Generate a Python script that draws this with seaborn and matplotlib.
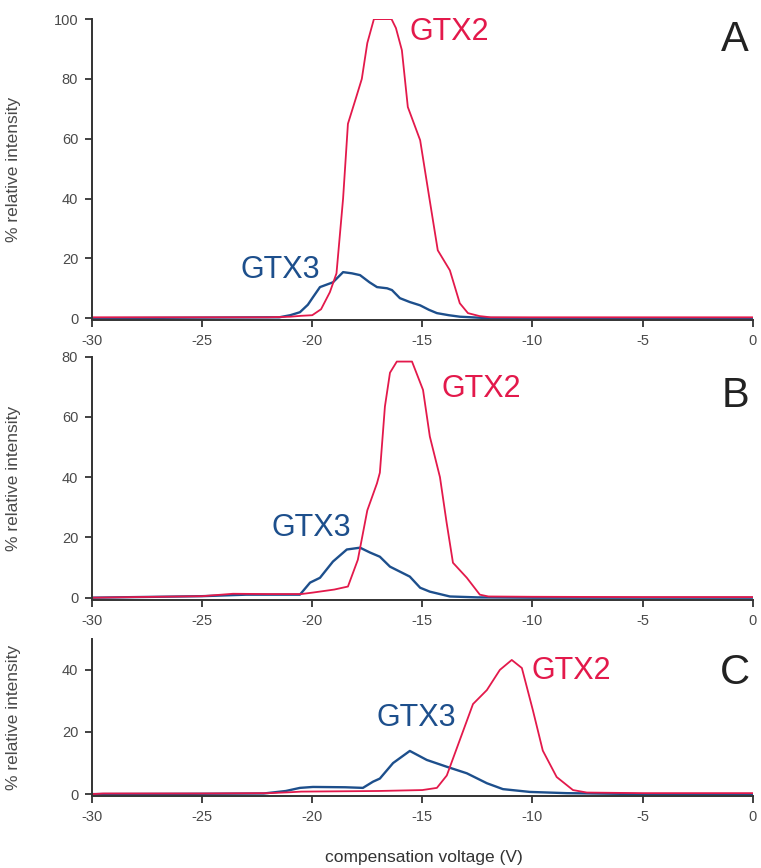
import matplotlib
matplotlib.use("Agg")
import matplotlib.pyplot as plt
import seaborn as sns
import pandas as pd

# ---------------- data ----------------
x_ticks = [-30, -25, -20, -15, -10, -5, 0]

# Panel A
A_gtx2_x = [-30, -25, -22, -21, -20.5, -20, -19.6, -19.2, -18.9, -18.6, -18.38, -18.0, -17.75, -17.5,
            -17.2, -16.4, -16.2, -15.93, -15.66, -15.1, -14.7, -14.3, -13.75, -13.3, -12.93, -12.4,
            -11.9, -10, -5, 0]
A_gtx2_y = [0.3, 0.3, 0.3, 0.5, 0.8, 1.0, 3.0, 8.7, 15, 40, 65, 74, 80, 92,
            100, 100, 97, 89.6, 70.6, 59.5, 41, 22.7, 16, 5, 1.7, 0.7,
            0.3, 0.3, 0.3, 0.3]
A_gtx3_x = [-30, -25, -22, -21.5, -21, -20.56, -20.2, -19.97, -19.65, -19.06, -18.6, -18.2, -17.83,
            -17.4, -17.06, -16.6, -16.38, -16.02, -15.57, -15.1, -14.7, -14.34, -13.8, -13.3, -12.25,
            -10, -5, 0]
A_gtx3_y = [0.0, 0.2, 0.3, 0.3, 1.0, 2.0, 4.5, 7.0, 10.4, 12, 15.4, 15, 14.4,
            12, 10.4, 10, 9.4, 6.7, 5.4, 4.3, 2.8, 1.7, 1.0, 0.5, 0.1,
            0, 0, 0]

# Panel B
B_gtx2_x = [-30, -27, -25, -23.6, -22, -20.5, -19.97, -19, -18.38, -17.93, -17.5, -17.06, -16.93,
            -16.7, -16.47, -16.16, -15.47, -14.97, -14.66, -14.2, -13.9, -13.61, -12.98, -12.39,
            -12, -10, -5, 0]
B_gtx2_y = [0.0, 0.3, 0.5, 1.3, 1.2, 1.2, 1.7, 2.7, 3.7, 12.6, 29, 38, 41.5,
            63.5, 74.7, 78.4, 78.4, 69, 53.5, 40, 25, 11.6, 6.6, 1.0,
            0.4, 0.3, 0.2, 0.2]
B_gtx3_x = [-30, -27, -25, -23, -21, -20.56, -20.1, -19.65, -19.06, -18.43, -17.83, -17.38, -16.93,
            -16.47, -15.57, -15.1, -14.66, -13.75, -12.5, -10, -5, 0]
B_gtx3_y = [0.0, 0.3, 0.5, 1.0, 1.0, 1.0, 5.0, 6.6, 12, 16, 16.6, 15, 13.6,
            10.3, 7.0, 3.3, 2.0, 0.4, 0.1, 0, 0, 0]

# Panel C
C_gtx2_x = [-30, -29.5, -25, -22, -21, -20.5, -17, -15, -14.34, -13.89, -13.3, -12.7, -12.07, -11.48,
            -10.94, -10.48, -9.98, -9.53, -8.9, -8.16, -7.53, -5, 0]
C_gtx2_y = [0.0, 0.2, 0.2, 0.3, 0.6, 0.8, 1.0, 1.3, 2.0, 6.0, 17.4, 29, 33.5, 40,
            43.2, 40.6, 27, 14, 5.5, 1.3, 0.5, 0.3, 0.3]
C_gtx3_x = [-30, -25, -22.2, -21.2, -20.56, -19.97, -18.5, -17.7, -17.24, -16.93, -16.33, -15.57,
            -14.8, -13.89, -12.98, -12.07, -11.34, -10.12, -8.44, -5, 0]
C_gtx3_y = [0.0, 0.1, 0.2, 1.0, 2.0, 2.3, 2.2, 2.0, 4.0, 5.0, 10, 13.9,
            11, 8.8, 6.7, 3.5, 1.6, 0.7, 0.3, 0, 0]

panel_letters = ["A", "B", "C"]
series_names = ["GTX2", "GTX3"]

# ---------------- style ----------------
sns.set_theme(style="ticks")
plt.rcParams["font.family"] = ["Liberation Sans", "DejaVu Sans"]
plt.rcParams["axes.unicode_minus"] = False
plt.rcParams["lines.solid_joinstyle"] = "round"

RED = "#e3194b"
BLUE = "#1d4f8c"
SPINE = "#333333"
TICKC = "#4a4a4a"

fig = plt.figure(figsize=(7.61, 8.68), dpi=100)

panels = [
    dict(rect=[0.121, 0.631, 0.868, 0.347], ylim=(-0.7, 100), yticks=[0, 20, 40, 60, 80, 100],
         r=(A_gtx2_x, A_gtx2_y), b=(A_gtx3_x, A_gtx3_y),
         lab2=(-15.57, 95.6), lab3=(-23.28, 16.0), letter=(-0.8, 93.0)),
    dict(rect=[0.121, 0.309, 0.868, 0.280], ylim=(-0.7, 80), yticks=[0, 20, 40, 60, 80],
         r=(B_gtx2_x, B_gtx2_y), b=(B_gtx3_x, B_gtx3_y),
         lab2=(-14.11, 69.4), lab3=(-21.83, 23.3), letter=(-0.8, 67.0)),
    dict(rect=[0.121, 0.083, 0.868, 0.181], ylim=(-0.6, 50), yticks=[0, 20, 40],
         r=(C_gtx2_x, C_gtx2_y), b=(C_gtx3_x, C_gtx3_y),
         lab2=(-10.03, 39.7), lab3=(-17.06, 24.5), letter=(-0.8, 39.0)),
]

for i, p in enumerate(panels):
    ax = fig.add_axes(p["rect"])
    df_b = pd.DataFrame({"x": p["b"][0], "y": p["b"][1]})
    df_r = pd.DataFrame({"x": p["r"][0], "y": p["r"][1]})
    sns.lineplot(data=df_b, x="x", y="y", ax=ax, color=BLUE, lw=1.7,
                 estimator=None, sort=False)
    sns.lineplot(data=df_r, x="x", y="y", ax=ax, color=RED, lw=1.3,
                 estimator=None, sort=False)
    ax.set_xlim(-30, 0)
    ax.set_ylim(*p["ylim"])
    ax.set_xticks(x_ticks)
    ax.set_yticks(p["yticks"])
    sns.despine(ax=ax)
    for s in ["left", "bottom"]:
        ax.spines[s].set_color(SPINE)
        ax.spines[s].set_linewidth(1.4)
    ax.tick_params(axis="both", direction="out", length=5, width=1.3, color=SPINE,
                   labelsize=10.5, labelcolor=TICKC, pad=5)
    ax.set_xlabel("")
    ax.set_ylabel("% relative intensity", fontsize=12.5, color=TICKC)
    ax.yaxis.set_label_coords(-0.107, 0.5)
    ax.text(p["lab2"][0], p["lab2"][1], series_names[0], color=RED, fontsize=22,
            ha="left", va="center")
    ax.text(p["lab3"][0], p["lab3"][1], series_names[1], color=BLUE, fontsize=22,
            ha="left", va="center")
    ax.text(p["letter"][0], p["letter"][1], panel_letters[i], color="#222222", fontsize=30,
            ha="center", va="center")
    ax.patch.set_alpha(0)

fig.text(0.557, 0.004, "compensation voltage (V)", fontsize=12.5, color="#333333",
         ha="center", va="bottom")

fig.savefig("out.png", dpi=100)
